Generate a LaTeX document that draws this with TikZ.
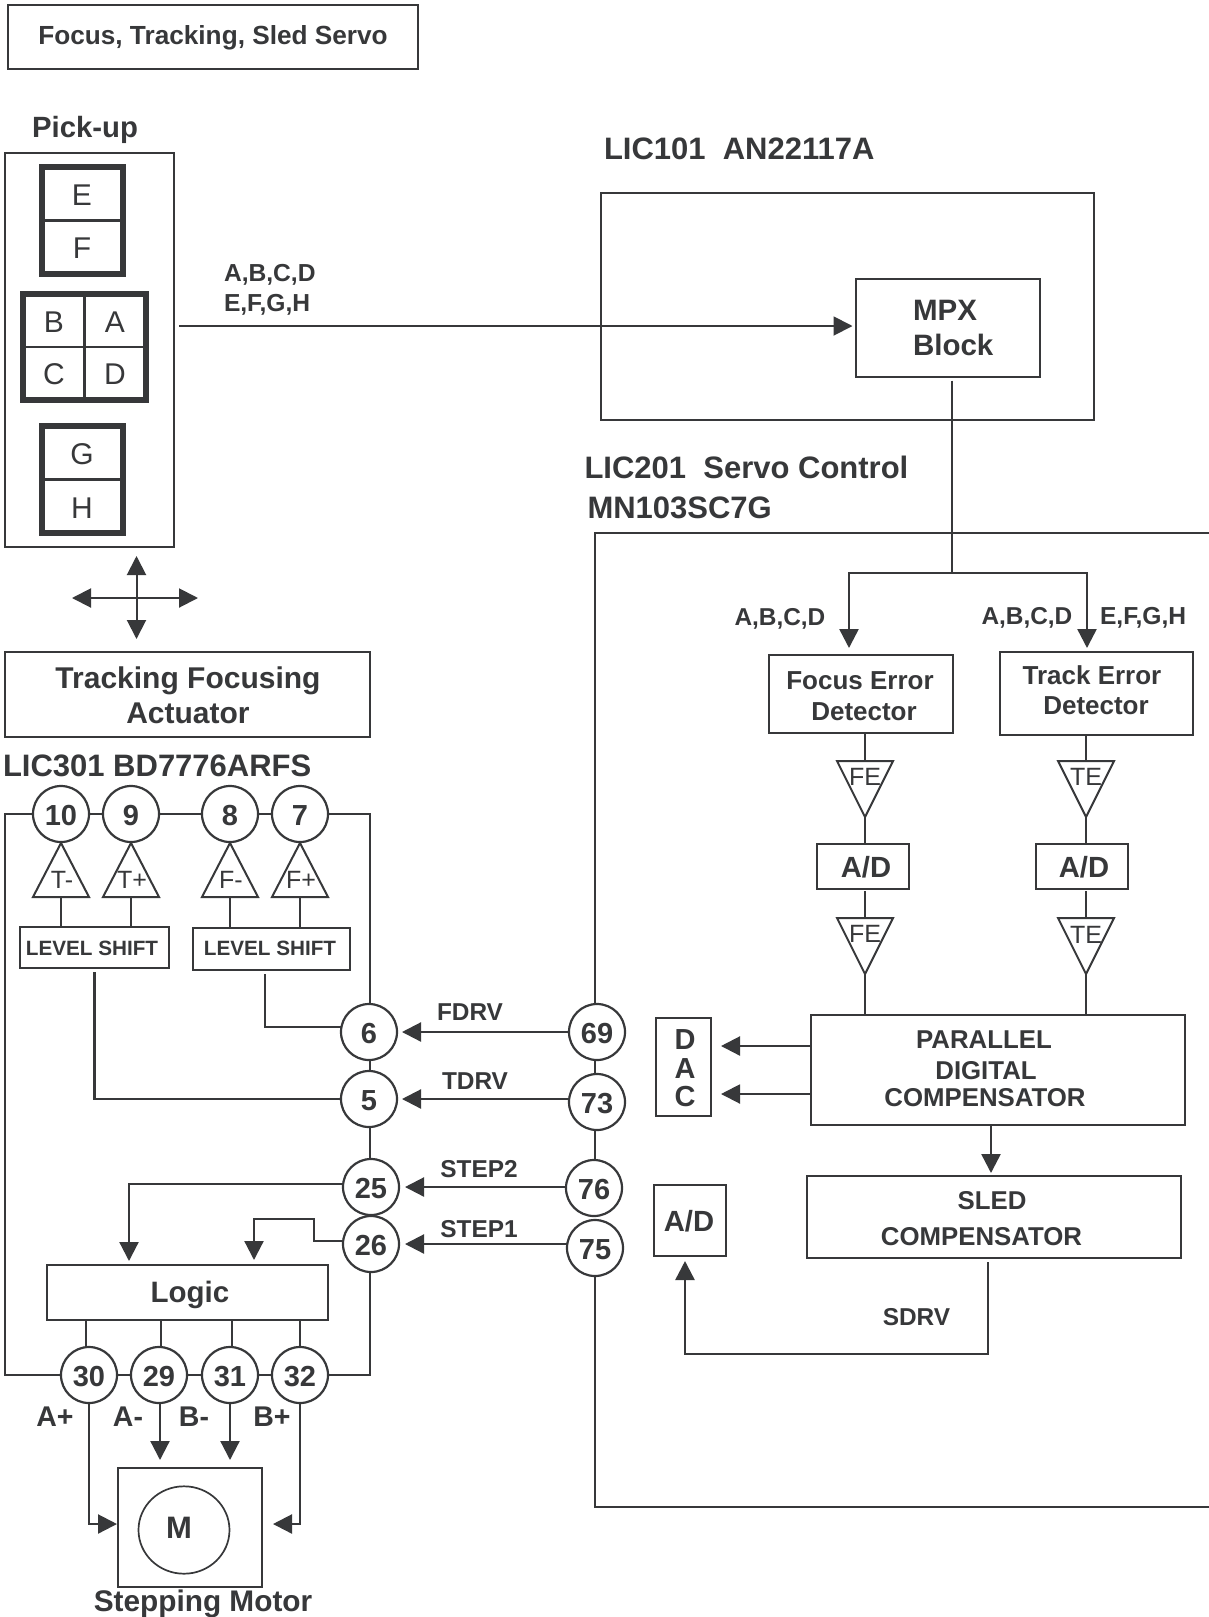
\documentclass[tikz,border=0pt]{standalone}
\usepackage{fontspec}
\setmainfont{Liberation Sans}
\usetikzlibrary{arrows.meta}
\definecolor{ink}{HTML}{37383A}
\newcommand{\pn}[1]{\raisebox{-1.5pt}{#1}}
\tikzset{
  lab/.style={inner sep=0pt,outer sep=0pt,text=ink,font=\fontsize{#1}{#1}\selectfont\bfseries,text height={0.716*#1},text depth=0pt},
  reg/.style={inner sep=0pt,outer sep=0pt,text=ink,font=\fontsize{#1}{#1}\selectfont,text height={0.716*#1},text depth=0pt},
  ln/.style={draw=ink,line width=2pt},
  hv/.style={draw=ink,line width=2.5pt},
  arr/.style={draw=ink,line width=2.2pt,-{Triangle[length=19pt,width=19pt,color=ink]}},
  box/.style={draw=ink,line width=2pt,inner sep=0pt,outer sep=0pt,anchor=north west,minimum width=#1},
  hh/.style={minimum height=#1},
  cell/.style={draw=ink,line width=5.5pt,inner sep=0pt,outer sep=0pt,anchor=north west,minimum width=#1},
  pin/.style={circle,draw=ink,line width=2.2pt,fill=white,minimum size=56pt,inner sep=0pt,outer sep=0pt,text=ink,font=\fontsize{29}{29}\selectfont\bfseries,text height=20.8pt,text depth=0pt},
}
\newcommand{\ampup}[3]{% name, apex x, text
  \coordinate (#1a) at (#2,843);
  \coordinate (#1b) at (#2,897);
  \draw[ln] (#2-28,897) -- (#1a) -- (#2+28,897) -- cycle;
  \node[reg=25] (#1t) at (#2+1,880) {#3};
}
\newcommand{\ampdn}[5]{% name, apex x, top y, text, text y
  \coordinate (#1a) at (#2,#3);
  \coordinate (#1b) at (#2,#3+56);
  \draw[ln] (#2-28,#3) -- (#2+28,#3) -- (#1b) -- cycle;
  \node[reg=25] (#1t) at (#2,#5) {#4};
}
\begin{document}
\begin{tikzpicture}[x=1pt,y=-1pt]
\useasboundingbox[fill=white] (0,0) rectangle (1209,1617);

% title
\node[box=410pt,hh=64pt] (title) at (8,5) {};
\node[lab=26.2] (titlet) at (213,35) {Focus, Tracking, Sled Servo};

% pick-up
\node[lab=29.3] (pickt) at (85,127) {Pick-up};
\node[box=169pt,hh=394pt] (pu) at (5,153) {};
\node[cell=81pt,hh=107pt] (ef) at (42,167) {};
\draw[hv] (ef.west) -- (ef.east);
\node[reg=30] (le) at (82,195) {E};
\node[reg=30] (lf) at (82,248) {F};
\node[cell=123pt,hh=106pt] (abcd) at (23,294) {};
\draw[hv] (abcd.west) -- (abcd.east);
\draw[hv] (abcd.north) -- (abcd.south);
\node[reg=30] (lb) at (54,322) {B};
\node[reg=30] (la) at (115,322) {A};
\node[reg=30] (lc) at (54,374) {C};
\node[reg=30] (ld) at (115,374) {D};
\node[cell=81pt,hh=107pt] (gh) at (42,426) {};
\draw[hv] (gh.west) -- (gh.east);
\node[reg=30] (lg) at (82,454) {G};
\node[reg=30] (lh) at (82,508) {H};

% cross of movement
\coordinate (crc) at (136.5,598);
\coordinate (crl) at (72,598);
\coordinate (crr) at (198,598);
\coordinate (crt) at (136.5,556);
\coordinate (crb) at (136.5,639);
\draw[arr,line width=2pt] (crc) -- (crl);
\draw[arr,line width=2pt] (crc) -- (crr);
\draw[arr,line width=2pt] (crc) -- (crt);
\draw[arr,line width=2pt] (crc) -- (crb);

% actuator
\node[box=365pt,hh=85pt] (act) at (5,652) {};
\node[lab=30] (actt1) at (188,677.5) {Tracking Focusing};
\node[lab=30] (actt2) at (188,713) {Actuator};

% LIC101
\node[lab=31,anchor=west] (t101) at (604,148) {LIC101\ \ AN22117A};
\node[box=493pt,hh=227pt] (ic101) at (601,193) {};
\node[box=184pt,hh=98pt] (mpx) at (855.5,278.5) {};
\node[lab=29.5,anchor=west] (mpx1) at (913,310) {MPX};
\node[lab=29.5,anchor=west] (mpx2) at (913,345) {Block};
\node[lab=24.6,anchor=west] (sig1) at (224,273) {A,B,C,D};
\node[lab=24.6,anchor=west] (sig2) at (224,303) {E,F,G,H};
\coordinate (sigy) at (179,326);
\draw[arr,line width=1.9pt,shorten >=3pt] (sigy) -- (sigy -| mpx.west);

% LIC201
\node[lab=31,anchor=west] (t201a) at (584.5,467) {LIC201\ \ Servo Control};
\node[lab=31,anchor=west] (t201b) at (587.5,507) {MN103SC7G};
\coordinate (ictl) at (595,533);
\coordinate (ictr) at (1209,533);
\coordinate (icbl) at (595,1507);
\coordinate (icbr) at (1209,1507);

% detectors
\node[box=184pt,hh=78pt] (focus) at (769,655) {};
\node[lab=26] (focus1) at (860,680) {Focus Error};
\node[lab=26] (focus2) at (864,711) {Detector};
\node[box=193pt,hh=83pt] (track) at (1000,652) {};
\node[lab=26] (track1) at (1092,675) {Track Error};
\node[lab=26] (track2) at (1096,705) {Detector};
\node[lab=24.4,anchor=west] (sa) at (734.5,617) {A,B,C,D};
\node[lab=24.4,anchor=west] (sb) at (981.5,616) {A,B,C,D};
\node[lab=24.6,anchor=west] (sc) at (1100,616) {E,F,G,H};

\coordinate (spl) at (952,573);
\coordinate (fa) at (849,573);
\coordinate (ta) at (1087,573);
\draw[ln,line width=2.5pt,shorten <=4pt] (spl |- mpx.south) -- (spl);
\draw[arr,line width=2.5pt,shorten >=7pt] (spl) -- (fa) -- (fa |- focus.north);
\draw[arr,line width=2.5pt,shorten >=4pt] (spl) -- (ta) -- (ta |- track.north);

\ampdn{fe1}{865}{761}{FE}{777}
\ampdn{te1}{1086}{761}{TE}{777}
\node[box=92pt,hh=45pt,line width=2.5pt] (adf) at (817,844) {};
\node[box=92pt,hh=45pt,line width=2.5pt] (adt) at (1036,844) {};
\node[lab=29.2] (adft) at (866,867) {A/D};
\node[lab=29.2] (adtt) at (1084,867) {A/D};
\ampdn{fe2}{865}{918}{FE}{934}
\ampdn{te2}{1086}{918}{TE}{935}
\node[box=374pt,hh=110.5pt] (comp) at (811,1014.5) {};
\node[lab=25.8] (comp1) at (984,1039) {PARALLEL};
\node[lab=25.8] (comp2) at (986,1070) {DIGITAL};
\node[lab=25.8] (comp3) at (985,1097.5) {COMPENSATOR};

\draw[ln] (fe1a |- focus.south) -- (fe1a);
\draw[ln] (te1a |- track.south) -- (te1a);
\draw[ln] (fe1b) -- (fe1b |- adf.north);
\draw[ln] (te1b) -- (te1b |- adt.north);
\draw[ln,shorten <=2pt] (fe2a |- adf.south) -- (fe2a);
\draw[ln,shorten <=2pt] (te2a |- adt.south) -- (te2a);
\draw[ln] (fe2b) -- (fe2b |- comp.north);
\draw[ln] (te2b) -- (te2b |- comp.north);

% DAC
\node[box=55pt,hh=98pt] (dac) at (656,1018) {};
\node[lab=29] (dacd) at (685,1039) {D};
\node[lab=29] (daca) at (685,1068) {A};
\node[lab=29] (dacc) at (685,1096) {C};
\coordinate (dy1) at (721,1046);
\coordinate (dy2) at (721,1094);
\draw[arr,shorten >=10pt] (dy1 -| comp.west) -- (dy1 -| dac.east);
\draw[arr,line width=2pt,shorten >=10pt] (dy2 -| comp.west) -- (dy2 -| dac.east);

% sled
\node[box=374pt,hh=82pt] (sled) at (807,1176) {};
\node[lab=25.8] (sled1) at (992,1200) {SLED};
\node[lab=25.8] (sled2) at (981.5,1236) {COMPENSATOR};
\coordinate (cs) at (991,1125);
\draw[arr,line width=2.5pt,shorten >=3pt] (cs) -- (cs |- sled.north);
\node[box=72pt,hh=71pt] (adbox) at (654,1185) {};
\node[lab=29.2] (adboxt) at (689,1221) {A/D};
\coordinate (sd) at (988,1354);
\coordinate (sd2) at (685,1354);
\draw[arr,line width=2.5pt,shorten >=5pt] ([yshift=-4pt]sd |- sled.south) -- (sd) -- (sd2) -- (sd2 |- adbox.south);
\node[lab=24.4] (sdrv) at (916.5,1317) {SDRV};

% LIC301 heading
\node[lab=31,anchor=west] (t301) at (3,765) {LIC301 BD7776ARFS};

% LIC301 pins
\node[pin] (c10) at (61,814) {\pn{10}};
\node[pin] (c9) at (131,814) {\pn{9}};
\node[pin] (c8) at (230,814) {\pn{8}};
\node[pin] (c7) at (300,814) {\pn{7}};
\node[pin] (c6) at (369,1032) {\pn{6}};
\node[pin] (c5) at (369,1099) {\pn{5}};
\node[pin] (c25) at (371,1187) {\pn{25}};
\node[pin] (c26) at (371,1244) {\pn{26}};
\node[pin] (c30) at (89,1375) {\pn{30}};
\node[pin] (c29) at (159,1375) {\pn{29}};
\node[pin] (c31) at (230,1375) {\pn{31}};
\node[pin] (c32) at (300,1375) {\pn{32}};

% LIC201 pins
\node[pin] (c69) at (597,1032) {\pn{69}};
\node[pin] (c73) at (597,1102) {\pn{73}};
\node[pin] (c76) at (594,1188) {\pn{76}};
\node[pin] (c75) at (595,1248) {\pn{75}};

% IC201 outline
\draw[ln] (ictr) -- (ictl) -- (ictl |- c69.north);
\draw[ln] (ictl |- c69.south) -- (ictl |- c73.north);
\draw[ln] (ictl |- c73.south) -- (ictl |- c76.north);
\draw[ln] (ictl |- c75.south) -- (icbl) -- (icbr);

% IC301 outline
\coordinate (lft) at (5,1000);
\coordinate (rgt) at (370,1000);
\draw[ln] (c10.west) -| (lft) |- (c30.west);
\draw[ln] (c10.east) -- (c9.west);
\draw[ln] (c9.east) -- (c8.west);
\draw[ln] (c8.east) -- (c7.west);
\draw[ln] (c7.east) -| (rgt) -- (rgt |- c6.north);
\draw[ln] (rgt |- c6.south) -- (rgt |- c5.north);
\draw[ln] (rgt |- c5.south) -- (rgt |- c25.north);
\draw[ln] (rgt |- c26.south) -- (rgt |- c32.east) -- (c32.east);
\draw[ln] (c30.east) -- (c29.west);
\draw[ln] (c29.east) -- (c31.west);
\draw[ln] (c31.east) -- (c32.west);

% amplifiers
\ampup{tm}{61}{T-}
\ampup{tp}{131}{T+}
\ampup{fm}{230}{F-}
\ampup{fp}{300}{F+}
\node[box=149pt,hh=41pt,line width=2.3pt] (ls1) at (20,927) {};
\node[box=157pt,hh=42pt,line width=2.3pt] (ls2) at (193,928) {};
\node[lab=20.7] (ls1t) at (92,948) {LEVEL SHIFT};
\node[lab=20.7] (ls2t) at (270,948.5) {LEVEL SHIFT};
\draw[ln] (tmb) -- (tmb |- ls1.north);
\draw[ln] (tpb) -- (tpb |- ls1.north);
\draw[ln] (fmb) -- (fmb |- ls2.north);
\draw[ln] (fpb) -- (fpb |- ls2.north);
\draw[ln,line width=2.3pt] ([yshift=-4pt]ls1.south) |- (c5.west);
\coordinate (ly2) at (265,1027);
\draw[ln,line width=2.3pt,shorten <=4pt] (ly2 |- ls2.south) -- (ly2) -- (ly2 -| c6.west);

% drive signals
\draw[arr,shorten >=5pt] (c69.west) -- (c6.east);
\draw[arr,shorten >=5pt] (c73.west |- c5.east) -- (c5.east);
\draw[arr,shorten >=6pt] (c76.west |- c25.east) -- (c25.east);
\draw[arr,shorten >=6pt] (c75.west |- c26.east) -- (c26.east);
\node[lab=24.4] (fdrv) at (470,1011.5) {FDRV};
\node[lab=24.4] (tdrv) at (475,1081) {TDRV};
\node[lab=24.4] (st2) at (479,1168.5) {STEP2};
\node[lab=24.4] (st1) at (479,1228.5) {STEP1};

% logic
\node[box=281pt,hh=55pt] (logic) at (47,1265) {};
\node[lab=29.5] (logict) at (190,1292) {Logic};
\coordinate (y25) at (129,1184);
\draw[arr,shorten >=4pt] (y25 -| c25.west) -- (y25) -- (y25 |- logic.north);
\coordinate (y26a) at (314,1241);
\coordinate (y26b) at (314,1219);
\coordinate (y26c) at (254,1219);
\draw[arr,shorten >=5pt] (y26a -| c26.west) -- (y26a) -- (y26b) -- (y26c) -- (y26c |- logic.north);
\coordinate (lo1) at (86,1320);
\coordinate (lo2) at (161,1320);
\coordinate (lo3) at (232,1320);
\coordinate (lo4) at (300,1320);
\draw[ln] (lo1) -- (lo1 |- c30.north);
\draw[ln] (lo2) -- (lo2 |- c29.north);
\draw[ln] (lo3) -- (lo3 |- c31.north);
\draw[ln] (lo4) -- (lo4 |- c32.north);

% motor
\node[box=144pt,hh=119pt] (motor) at (118,1468) {};
\draw[draw=ink,line width=1.7pt] (184,1530) ellipse [x radius=45.5pt,y radius=43.7pt];
\node[lab=31] (mt) at (179,1527) {M};
\node[lab=29.8] (smt) at (203,1601) {Stepping Motor};
\node[lab=28.5] (ap) at (55,1416) {A+};
\node[lab=28.5] (am) at (128,1416) {A-};
\node[lab=28.5] (bm) at (194,1416) {B-};
\node[lab=28.5] (bp) at (272,1416) {B+};
\coordinate (ym) at (0,1524);
\coordinate (s29) at (160,1403);
\draw[arr,shorten >=8pt] (s29) -- (s29 |- motor.north);
\draw[arr,shorten >=8pt] (c31.south) -- (c31.south |- motor.north);
\draw[arr,shorten >=1pt] (c30.south) |- (motor.west |- ym);
\draw[arr,shorten >=11pt] (c32.south) |- (motor.east |- ym);
\end{tikzpicture}
\end{document}
